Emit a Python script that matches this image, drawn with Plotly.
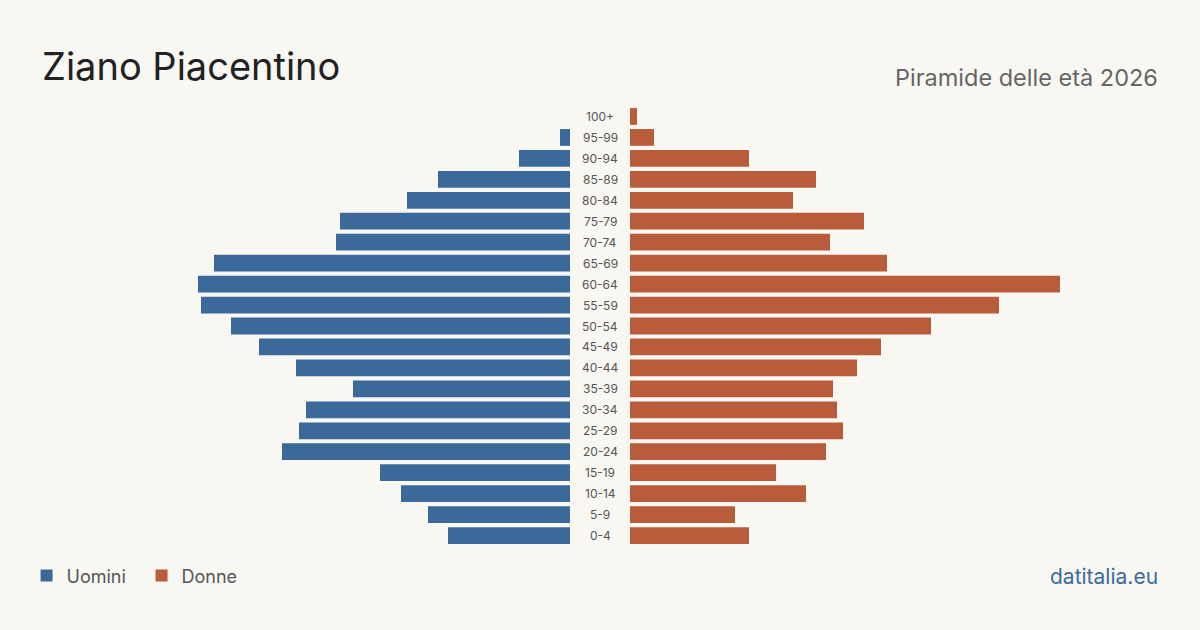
import plotly.graph_objects as go

ages = ["0-4","5-9","10-14","15-19","20-24","25-29","30-34","35-39","40-44","45-49",
        "50-54","55-59","60-64","65-69","70-74","75-79","80-84","85-89","90-94","95-99","100+"]
men = [122,142,169,190,288,271,264,217,274,311,339,369,372,356,234,230,163,132,51,10,0]
women = [119,105,176,146,196,213,207,203,227,251,301,369,430,257,200,234,163,186,119,24,7]

BLUE = "#3b6a9a"; ORANGE = "#b85c3c"; BG = "#f9f7f2"
fig = go.Figure()
fig.add_trace(go.Bar(y=ages, x=men, orientation="h", name="Uomini", marker_color=BLUE,
                     marker_line_width=0, xaxis="x", yaxis="y", width=0.8))
fig.add_trace(go.Bar(y=ages, x=women, orientation="h", name="Donne", marker_color=ORANGE,
                     marker_line_width=0, xaxis="x2", yaxis="y", width=0.8))
W = 1120
fig.update_layout(
    width=1200, height=630, paper_bgcolor=BG, plot_bgcolor=BG,
    margin=dict(l=40, r=40, t=106, b=84),
    font=dict(family="Inter, sans-serif"),
    xaxis=dict(domain=[0, 530/W], range=[530, 0], visible=False),
    xaxis2=dict(domain=[590/W, 1], range=[0, 530], visible=False),
    yaxis=dict(visible=False, categoryorder="array", categoryarray=ages, range=[-0.5, 20.5]),
    showlegend=True,
    legend=dict(orientation="h", x=-0.012, xanchor="left", y=-0.068, yanchor="middle",
                font=dict(size=18, color="#555"), bgcolor="rgba(0,0,0,0)",
                itemwidth=30, entrywidth=70, entrywidthmode="pixels"),
    bargap=0.2,
)
for a in ages:
    fig.add_annotation(x=0.5, xref="paper", y=a, yref="y", text=a, showarrow=False,
                       font=dict(size=12, color="#555"))
fig.add_annotation(x=0, y=1 + (106-66)/440, xref="paper", yref="paper", text="Ziano Piacentino",
                   showarrow=False, xanchor="left", yanchor="middle",
                   font=dict(size=38, color="#222"))
fig.add_annotation(x=1, y=1 + (106-77)/440, xref="paper", yref="paper",
                   text="Piramide delle età 2026", showarrow=False, xanchor="right",
                   yanchor="middle", font=dict(size=23.5, color="#666"))
fig.add_annotation(x=1, y=-(576-546)/440, xref="paper", yref="paper", text="datitalia.eu",
                   showarrow=False, xanchor="right", yanchor="middle",
                   font=dict(size=21, color="#3a6a9e"))
fig.write_html("out.html", config={"displayModeBar": False},
               post_script="document.body.style.margin='0';")
